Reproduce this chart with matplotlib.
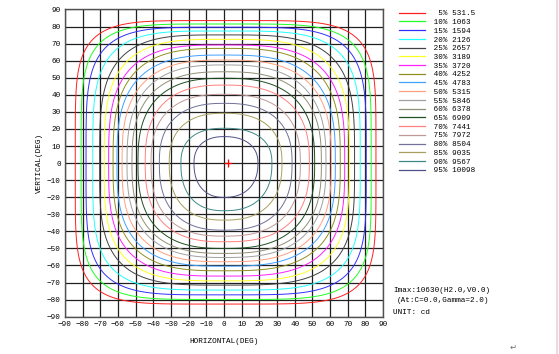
import numpy as np
import matplotlib
matplotlib.use('Agg')
import matplotlib.pyplot as plt
from matplotlib.lines import Line2D

# contour levels (% of Imax) and their intensities (cd)
pcts = [5, 10, 15, 20, 25, 30, 35, 40, 45, 50, 55, 60, 65, 70, 75, 80, 85, 90, 95]
cds = ['531.5', '1063', '1594', '2126', '2657', '3189', '3720', '4252', '4783', '5315',
       '5846', '6378', '6909', '7441', '7972', '8504', '9035', '9567', '10098']
colors = ['#ff2020', '#20ff20', '#3030ff', '#20ffff', '#404040', '#ffff20', '#ff20ff',
          '#909020', '#40a0ff', '#ffa080', '#a0a0a0', '#909075', '#205020', '#ff8080',
          '#c09898', '#707098', '#a8a060', '#408888', '#505088']

# extents of each contour (deg)
left = [-84.2, -80.9, -78.1, -74.3, -70.4, -67.8, -65.3, -62.8, -60.6, -57.7,
        -54.9, -52.1, -48.7, -44.6, -41.3, -36.6, -31.0, -24.4, -17.0]
right = [86.0, 83.3, 80.5, 77.1, 73.9, 70.9, 68.3, 65.8, 63.0, 60.7,
         57.7, 55.1, 51.3, 48.3, 43.2, 38.5, 32.8, 27.1, 19.2]
top = [83.5, 81.5, 79.6, 77.4, 75.1, 72.5, 69.2, 67.2, 63.3, 60.4,
       57.5, 53.5, 49.7, 45.7, 40.3, 35.0, 29.2, 20.4, 15.5]
bottom = [-82.6, -79.9, -77.2, -74.4, -71.5, -69.0, -66.2, -63.1, -60.4, -57.8,
          -55.3, -52.9, -50.0, -46.1, -42.8, -39.3, -33.4, -27.9, -20.1]
# squareness of each contour
shape = [5.2, 4.8, 4.4, 4.0, 3.6, 3.4, 3.2, 3.05, 2.95, 2.85,
         2.75, 2.7, 2.65, 2.6, 2.55, 2.5, 2.45, 2.4, 2.3]

ticks = list(range(-90, 91, 10))
imax_pos = (2.0, 0.0)

mono = 'Liberation Mono'

fig = plt.figure(figsize=(5.59, 3.54), dpi=100)
ax = fig.add_axes([0.1163, 0.1054, 0.5689, 0.8678])

h = np.linspace(-90, 90, 721)
v = np.linspace(-90, 90, 721)
H, V = np.meshgrid(h, v)
for i in range(len(pcts)):
    rx = np.where(H >= 0, right[i], -left[i])
    ry = np.where(V >= 0, top[i], -bottom[i])
    f = (np.abs(H) / rx) ** shape[i] + (np.abs(V) / ry) ** shape[i]
    ax.contour(H, V, f, levels=[1.0], colors=[colors[i]], linewidths=0.7, zorder=3)

ax.plot([imax_pos[0]], [imax_pos[1]], marker='+', color='red', markersize=6, mew=0.9, zorder=4)

ax.set_xlim(-90, 90)
ax.set_ylim(-90, 90)
ax.set_xticks(ticks)
ax.set_yticks(ticks)
ax.grid(True, color='#202020', linewidth=0.9, zorder=1)
ax.tick_params(length=0, labelsize=5.5, pad=3)
for lab in ax.get_xticklabels() + ax.get_yticklabels():
    lab.set_fontfamily(mono)
for s in ax.spines.values():
    s.set_color('#505050')
    s.set_linewidth(1.0)
ax.set_xlabel('HORIZONTAL(DEG)', fontsize=5.5, fontfamily=mono, labelpad=7)
ax.set_ylabel('VERTICAL(DEG)', fontsize=5.5, fontfamily=mono, labelpad=3)

handles = [Line2D([0], [0], color=c, linewidth=0.9) for c in colors]
labels = ['%3d%% %s' % (p, c) for p, c in zip(pcts, cds)]
fig.legend(handles, labels, loc='upper left', bbox_to_anchor=(399 / 559, 1 - 10 / 354),
           frameon=False, prop={'family': mono, 'size': 5.5}, handlelength=3.4,
           handletextpad=0.5, labelspacing=0.18, borderpad=0, borderaxespad=0)

fig.text(393 / 559, 1 - 290 / 354, 'Imax:10630(H2.0,V0.0)', fontsize=5.5, fontfamily=mono, va='center')
fig.text(397 / 559, 1 - 301 / 354, '(At:C=0.0,Gamma=2.0)', fontsize=5.5, fontfamily=mono, va='center')
fig.text(393 / 559, 1 - 313 / 354, 'UNIT: cd', fontsize=5.5, fontfamily=mono, va='center')
fig.text(513 / 559, 1 - 347 / 354, '\u21b5', fontsize=6, color='#707070', ha='center', va='center')
fig.add_artist(Line2D([557 / 559, 557 / 559], [0, 1], color='#e0e0e0', linewidth=1.5))

fig.savefig('out.png', dpi=100)
